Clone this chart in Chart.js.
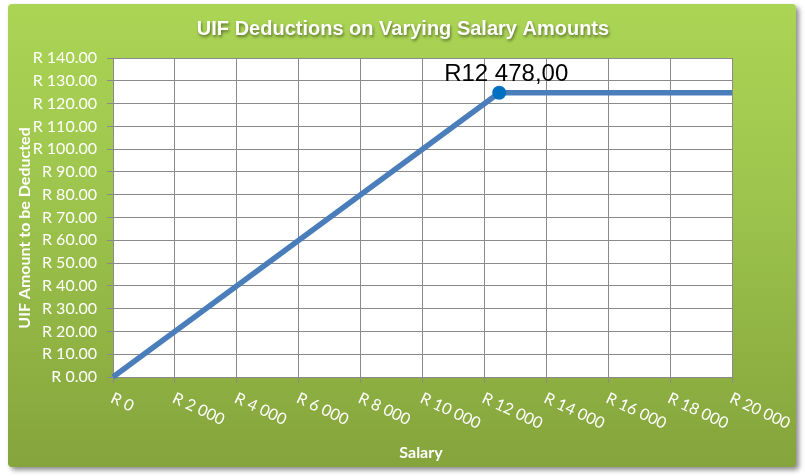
<!DOCTYPE html>
<html>
<head>
<meta charset="utf-8">
<script src="https://cdn.jsdelivr.net/npm/chart.js@4"></script>
<style>
html,body{margin:0;padding:0;background:#fff;}
#wrap{width:805px;height:476px;position:relative;}
</style>
</head>
<body>
<div id="wrap"><canvas id="c" width="805" height="476"></canvas></div>
<script>
const salaries = [0, 12478, 20000];
const uifAmounts = [0, 124.78, 124.78];
const pointRadii = [0, 7, 0];
const markerLabel = "R12 478,00";
const chartTitle = "UIF Deductions on Varying Salary Amounts";
const xTitle = "Salary";
const yTitle = "UIF Amount to be Deducted";

function fmtX(v){ return 'R ' + String(Math.round(v)).replace(/\B(?=(\d{3})+(?!\d))/g, ' '); }
function fmtY(v){ return 'R ' + Number(v).toFixed(2); }

function roundRect(ctx, x, y, w, h, r){
  ctx.beginPath();
  ctx.moveTo(x+r, y);
  ctx.lineTo(x+w-r, y); ctx.quadraticCurveTo(x+w, y, x+w, y+r);
  ctx.lineTo(x+w, y+h-r); ctx.quadraticCurveTo(x+w, y+h, x+w-r, y+h);
  ctx.lineTo(x+r, y+h); ctx.quadraticCurveTo(x, y+h, x, y+h-r);
  ctx.lineTo(x, y+r); ctx.quadraticCurveTo(x, y, x+r, y);
  ctx.closePath();
}

const decor = {
  id: 'decor',
  beforeDraw(chart){
    const ctx = chart.ctx;
    ctx.save();
    ctx.shadowColor = 'rgba(0,0,0,0.45)';
    ctx.shadowBlur = 5;
    ctx.shadowOffsetX = 3;
    ctx.shadowOffsetY = 3;
    const g = ctx.createLinearGradient(0, 4, 0, 467);
    g.addColorStop(0, '#abd555');
    g.addColorStop(0.45, '#9cc34c');
    g.addColorStop(1, '#85a43c');
    ctx.fillStyle = g;
    roundRect(ctx, 8, 4, 788, 463, 4);
    ctx.fill();
    ctx.restore();
    const a = chart.chartArea;
    ctx.save();
    ctx.fillStyle = '#ffffff';
    ctx.fillRect(a.left, a.top, a.right - a.left, a.bottom - a.top);
    ctx.restore();
  },
  afterDraw(chart){
    const ctx = chart.ctx;
    const xs = chart.scales.x;
    ctx.save();
    ctx.font = 'bold 20px "Liberation Sans Narrow", "Liberation Sans", Arial, sans-serif';
    ctx.textAlign = 'center';
    ctx.textBaseline = 'middle';
    ctx.shadowColor = 'rgba(0,0,0,0.45)';
    ctx.shadowBlur = 3;
    ctx.shadowOffsetX = 1;
    ctx.shadowOffsetY = 2;
    ctx.fillStyle = '#ffffff';
    ctx.fillText(chartTitle, 403, 29);
    ctx.restore();

    ctx.save();
    ctx.fillStyle = '#ffffff';
    ctx.font = 'bold 16px Lato, "Open Sans", sans-serif';
    ctx.textAlign = 'center';
    ctx.textBaseline = 'middle';
    ctx.fillText(xTitle, 421, 453);
    ctx.translate(25, 228);
    ctx.rotate(-Math.PI/2);
    ctx.fillText(yTitle, 0, 0);
    ctx.restore();

    ctx.save();
    ctx.fillStyle = '#ffffff';
    ctx.font = '16px Lato, "Open Sans", sans-serif';
    ctx.textAlign = 'left';
    ctx.textBaseline = 'top';
    xs.ticks.forEach(t => {
      const px = xs.getPixelForValue(t.value);
      ctx.save();
      ctx.translate(px + 2, 390);
      ctx.rotate(25 * Math.PI / 180);
      ctx.fillText(fmtX(t.value), 0, 0);
      ctx.restore();
    });
    ctx.restore();

    const meta = chart.getDatasetMeta(0);
    const pt = meta.data[1];
    ctx.save();
    ctx.fillStyle = '#000000';
    ctx.font = '24px "Liberation Sans", Arial, sans-serif';
    ctx.textAlign = 'center';
    ctx.textBaseline = 'alphabetic';
    ctx.fillText(markerLabel, pt.x + 7, pt.y - 12);
    ctx.restore();
  }
};

new Chart(document.getElementById('c'), {
  type: 'line',
  data: {
    datasets: [{
      data: salaries.map((s, i) => ({x: s, y: uifAmounts[i]})),
      borderColor: '#4a7ebb',
      borderWidth: 5.5,
      pointRadius: pointRadii,
      pointHoverRadius: pointRadii,
      pointBackgroundColor: '#0070c0',
      pointBorderColor: '#0070c0',
      pointBorderWidth: 0,
      tension: 0,
      fill: false,
      clip: false
    }]
  },
  options: {
    responsive: false,
    animation: false,
    events: [],
    layout: { padding: { left: 0, top: 58, right: 73, bottom: 99 } },
    plugins: { legend: { display: false }, tooltip: { enabled: false }, title: { display: false } },
    scales: {
      x: {
        type: 'linear',
        min: 0, max: 20000,
        ticks: { display: false, stepSize: 2000 },
        grid: { color: '#8a8a8a', lineWidth: 1, drawTicks: true, tickLength: 6, tickColor: '#8a8a8a' },
        border: { color: '#8a8a8a' },
        afterFit(s){ s.height = 0; }
      },
      y: {
        min: 0, max: 140,
        ticks: { stepSize: 10, color: '#ffffff', font: { family: 'Lato, "Open Sans", sans-serif', size: 16 }, padding: 10, callback: v => fmtY(v) },
        grid: { color: '#8a8a8a', lineWidth: 1, drawTicks: true, tickLength: 6, tickColor: '#8a8a8a' },
        border: { color: '#8a8a8a' },
        afterFit(s){ s.width = 113; }
      }
    }
  },
  plugins: [decor]
});
</script>
</body>
</html>
